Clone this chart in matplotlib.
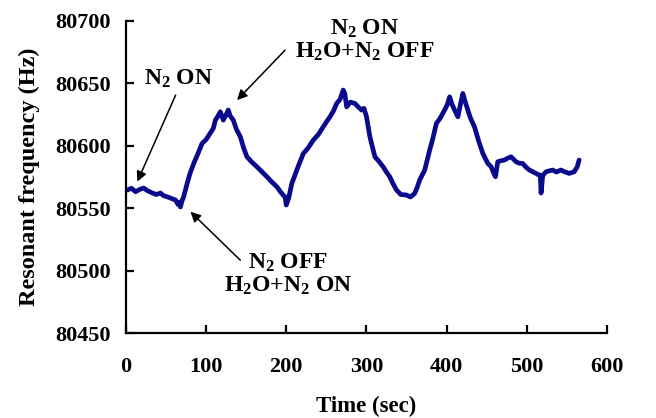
import matplotlib
matplotlib.use("Agg")
import matplotlib.pyplot as plt

plt.rcParams['font.family'] = 'Liberation Serif'
plt.rcParams['font.weight'] = 'bold'
plt.rcParams['mathtext.fontset'] = 'custom'
plt.rcParams['mathtext.default'] = 'bf'
plt.rcParams['mathtext.bf'] = 'Liberation Serif:bold'
plt.rcParams['mathtext.rm'] = 'Liberation Serif:bold'

# values
timeSec = [1.7, 7, 12, 17, 22, 27, 33, 38, 43, 47, 51.5, 56, 61.8, 65, 67, 68, 70, 72, 76.4,
           80, 84.6, 90, 95, 100, 105.3, 109, 111.6, 115, 117.8, 121.5, 125, 127.7, 130, 133.9,
           138, 142.7, 147, 151, 157, 163.4, 170, 175.9, 182, 188.3, 193, 197, 198.6, 200, 203, 207,
           214, 221.4, 227, 233.8, 240, 246.3, 250, 254.6, 259, 262.9, 267, 271.1, 273, 275.4,
           280, 285.7, 290, 294, 297, 300.2, 304.4, 310.6, 315, 320.9, 325, 329.2, 333, 337.6,
           343, 350, 355, 360.3, 363, 366.5, 372.8, 379, 383, 387.3, 392, 397.6, 401, 403.9,
           407, 410.1, 414.2, 417, 420.4, 423, 426.6, 430, 434.9, 440, 445.3, 451.5, 455.7,
           459, 461.1, 463.9, 468, 472.3, 476, 480.6, 486.8, 491, 495, 499, 503.4, 511.7,
           515, 517, 518, 520, 524.1, 532.3, 537, 542.8, 548, 553.1, 559.3, 563, 565.5]
freqHz = [80564.6, 80566, 80563.2, 80565, 80566.2, 80564, 80562.2, 80561, 80562.2, 80560, 80559.2,
          80558, 80556.6, 80553, 80555, 80551, 80556, 80559.2, 80569.9,
          80578, 80585.9, 80594, 80601.9, 80605, 80610.2, 80614, 80620.6, 80624, 80627.2, 80620.6,
          80625, 80628.6, 80624, 80620.6,
          80613, 80607.2, 80598, 80591.2, 80587, 80583.2, 80579, 80575.2, 80571, 80567.2, 80563,
          80560, 80559.2, 80552.6, 80558, 80569.9,
          80582, 80593.9, 80598, 80604.6, 80609, 80615.2, 80619, 80623.2, 80628, 80633.9, 80637,
          80644.6, 80642, 80631.2,
          80635, 80633.9, 80631, 80628.6, 80630, 80623.2, 80607.2, 80591.2, 80588, 80583.2,
          80579, 80575.2, 80570, 80564.6,
          80561, 80560.6, 80559, 80561.9, 80566, 80572.6, 80580.6, 80596.6, 80606, 80617.9,
          80622, 80628.6, 80633, 80639.2,
          80633, 80628.6, 80623.2, 80632, 80641.9, 80636, 80628.6, 80622, 80615.2, 80604, 80593.9,
          80585.9, 80583.2,
          80578, 80575.2, 80587.2, 80588, 80588.6, 80590, 80591.2, 80587.2, 80586, 80585.9,
          80583, 80580.6, 80577.9,
          80576.6, 80576.6, 80562.2, 80576, 80579.2, 80580.6, 80579, 80580.6, 80579, 80577.9,
          80579.2, 80583, 80588.6]

# annotation labels: (text, text position, arrow tail, arrow head)
notes = [
    ('N$_2$ ON', (66, 80654), (62, 80640.6), (14.2, 80571.3)),
    ('N$_2$ ON\nH$_2$O+N$_2$ OFF', (298, 80684.6), (198.6, 80676.6), (138.6, 80636.6)),
    ('N$_2$ OFF\nH$_2$O+N$_2$ ON', (202.6, 80497.4), (142.7, 80508.4), (80.5, 80547.2)),
]

fig = plt.figure(figsize=(6.56, 4.18), dpi=100)
ax = fig.add_axes([0.192, 0.203, 0.733, 0.747])

ax.plot(timeSec, freqHz, color='#0a0a8c', lw=3.4, solid_joinstyle='round', solid_capstyle='round')

ax.set_xlim(0, 600)
ax.set_ylim(80450, 80700)
ax.set_xticks(range(0, 601, 100))
ax.set_yticks(range(80450, 80701, 50))
ax.spines['top'].set_visible(False)
ax.spines['right'].set_visible(False)
for side in ['left', 'bottom']:
    ax.spines[side].set_linewidth(1.6)
ax.tick_params(direction='in', length=6, width=1.6, labelsize=16)
ax.tick_params(axis='x', pad=17)
ax.tick_params(axis='y', pad=11)

ax.set_xlabel('Time (sec)', fontsize=16.5, fontweight='bold')
ax.set_ylabel('Resonant frequency (Hz)', fontsize=17.5, fontweight='bold')
ax.xaxis.set_label_coords(0.5, -0.2)
ax.yaxis.set_label_coords(-0.179, 0.5)

for label, textPos, tail, head in notes:
    ax.text(textPos[0], textPos[1], label, fontsize=17, ha='center', va='center', linespacing=1.05)
    ax.annotate('', xy=head, xytext=tail,
                arrowprops=dict(arrowstyle='-|>', color='black', lw=1.1, mutation_scale=15,
                                shrinkA=0, shrinkB=0))

fig.savefig('out.png', dpi=100)
